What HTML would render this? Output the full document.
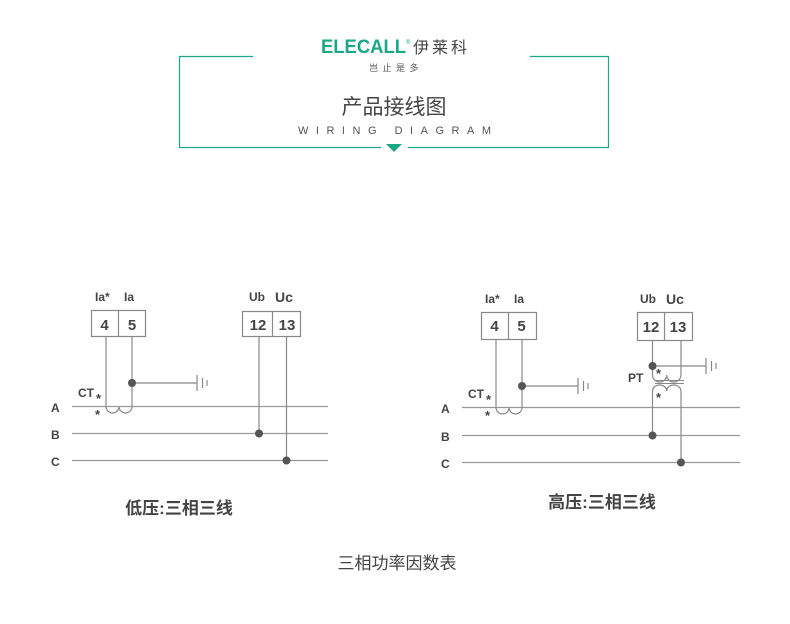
<!DOCTYPE html>
<html><head><meta charset="utf-8"><style>
html,body{margin:0;padding:0;background:#fff;}
svg{display:block;}
text{font-family:"Liberation Sans","Noto Sans CJK SC",sans-serif;}
</style></head><body>
<svg width="790" height="624" viewBox="0 0 790 624" xmlns="http://www.w3.org/2000/svg">
<!-- header frame -->
<g stroke="#1aa886" stroke-width="1.2" fill="none">
<polyline points="253,56.5 179.5,56.5 179.5,147.5 381,147.5"/>
<polyline points="530,56.5 608.5,56.5 608.5,147.5 408,147.5"/>
</g>
<polygon points="386,144 402,144 394,152" fill="#1aa886"/>
<text x="321" y="53" font-size="19" fill="#1aa886" font-weight="bold" textLength="85" lengthAdjust="spacingAndGlyphs">ELECALL</text>
<text x="406" y="44" font-size="6" fill="#1aa886">®</text>
<text x="413" y="53" font-size="16" fill="#444" textLength="54">伊莱科</text>
<text x="369" y="71" font-size="9" fill="#555" letter-spacing="4.5">岂止是多</text>
<text x="394" y="114" font-size="21" fill="#444" text-anchor="middle">产品接线图</text>
<text x="298" y="134" font-size="11" fill="#555" textLength="193" lengthAdjust="spacing">WIRING DIAGRAM</text>

<g stroke="#888" stroke-width="1.2" fill="none">
<!-- left diagram -->
<rect x="91.5" y="310.5" width="54" height="26" fill="#fff"/>
<line x1="118.5" y1="310.5" x2="118.5" y2="336.5"/>
<rect x="242.5" y="311.5" width="58" height="25"/>
<line x1="272.5" y1="311.5" x2="272.5" y2="336.5"/>
<line x1="72" y1="406.5" x2="328" y2="406.5" stroke="#999"/>
<line x1="72" y1="433.5" x2="328" y2="433.5" stroke="#999"/>
<line x1="72" y1="460.5" x2="328" y2="460.5" stroke="#999"/>
<line x1="106" y1="336.5" x2="106" y2="406.5"/>
<line x1="132" y1="336.5" x2="132" y2="406.5"/>
<path d="M106,406.5 a6.5,6.5 0 0 0 13,0 a6.5,6.5 0 0 0 13,0"/>
<line x1="132" y1="383" x2="197" y2="383"/>
<line x1="197" y1="375" x2="197" y2="391"/>
<line x1="202.5" y1="378" x2="202.5" y2="388"/>
<line x1="207" y1="380" x2="207" y2="386"/>
<line x1="259" y1="336.5" x2="259" y2="433.5"/>
<line x1="286.5" y1="336.5" x2="286.5" y2="460.5"/>
<!-- right diagram -->
<rect x="481.5" y="312.5" width="55" height="27"/>
<line x1="508.5" y1="312.5" x2="508.5" y2="339.5"/>
<rect x="637.5" y="312.5" width="55" height="28"/>
<line x1="664.5" y1="312.5" x2="664.5" y2="340.5"/>
<line x1="462" y1="407.5" x2="740" y2="407.5" stroke="#999"/>
<line x1="462" y1="435.5" x2="740" y2="435.5" stroke="#999"/>
<line x1="462" y1="462.5" x2="740" y2="462.5" stroke="#999"/>
<line x1="496" y1="339.5" x2="496" y2="407.5"/>
<line x1="522" y1="339.5" x2="522" y2="407.5"/>
<path d="M496,407.5 a6.5,6.5 0 0 0 13,0 a6.5,6.5 0 0 0 13,0"/>
<line x1="522" y1="386" x2="578" y2="386"/>
<line x1="578" y1="378" x2="578" y2="394"/>
<line x1="583.5" y1="381" x2="583.5" y2="391"/>
<line x1="588" y1="383" x2="588" y2="389"/>
<line x1="652.5" y1="340.5" x2="652.5" y2="375"/>
<line x1="681" y1="340.5" x2="681" y2="375"/>
<path d="M652.5,375 a7.1,7 0 0 0 14.2,0 a7.1,7 0 0 0 14.2,0"/>
<line x1="652" y1="366" x2="706" y2="366"/>
<line x1="706" y1="358" x2="706" y2="374"/>
<line x1="711.5" y1="361" x2="711.5" y2="371"/>
<line x1="716" y1="363" x2="716" y2="369"/>
<line x1="655" y1="380.5" x2="684" y2="380.5" stroke-width="1"/>
<line x1="655" y1="383.5" x2="684" y2="383.5" stroke-width="1"/>
<path d="M652.5,391 a7.1,6 0 0 1 14.2,0 a7.1,6 0 0 1 14.2,0"/>
<line x1="652.5" y1="391" x2="652.5" y2="435.5"/>
<line x1="681" y1="391" x2="681" y2="462.5"/>
</g>
<g fill="#555">
<circle cx="132" cy="383" r="4"/>
<circle cx="259" cy="433.5" r="4"/>
<circle cx="286.5" cy="460.5" r="4"/>
<circle cx="522" cy="386" r="4"/>
<circle cx="652.5" cy="366" r="4"/>
<circle cx="652.5" cy="435.5" r="4"/>
<circle cx="681" cy="462.5" r="4"/>
</g>
<g fill="#444" font-weight="bold" font-size="12">
<text x="95" y="301">Ia*</text><text x="124" y="301">Ia</text>
<text x="249" y="301">Ub</text><text x="275" y="302" font-size="14">Uc</text>
<text x="104.5" y="330" font-size="15" text-anchor="middle">4</text>
<text x="132" y="330" font-size="15" text-anchor="middle">5</text>
<text x="258" y="330" font-size="15" text-anchor="middle">12</text>
<text x="287" y="330" font-size="15" text-anchor="middle">13</text>
<text x="78" y="397">CT</text><text x="96" y="403" font-size="13">*</text>
<text x="95" y="419" font-size="13">*</text>
<text x="51" y="412">A</text><text x="51" y="439">B</text><text x="51" y="466">C</text>

<text x="485" y="303">Ia*</text><text x="514" y="303">Ia</text>
<text x="640" y="303">Ub</text><text x="666" y="304" font-size="14">Uc</text>
<text x="494.5" y="331" font-size="15" text-anchor="middle">4</text>
<text x="521.5" y="331" font-size="15" text-anchor="middle">5</text>
<text x="651" y="332" font-size="15" text-anchor="middle">12</text>
<text x="678" y="332" font-size="15" text-anchor="middle">13</text>
<text x="628" y="382">PT</text>
<text x="656" y="378" font-size="13">*</text>
<text x="656" y="402" font-size="13">*</text>
<text x="468" y="398">CT</text><text x="486" y="404" font-size="13">*</text>
<text x="485" y="420" font-size="13">*</text>
<text x="441" y="413">A</text><text x="441" y="441">B</text><text x="441" y="468">C</text>
</g>
<text x="179" y="514" font-size="17" font-weight="bold" fill="#444" text-anchor="middle">低压:三相三线</text>
<text x="602" y="508" font-size="17" font-weight="bold" fill="#444" text-anchor="middle">高压:三相三线</text>
<text x="397" y="569" font-size="17" fill="#444" text-anchor="middle">三相功率因数表</text>
</svg>
</body></html>
